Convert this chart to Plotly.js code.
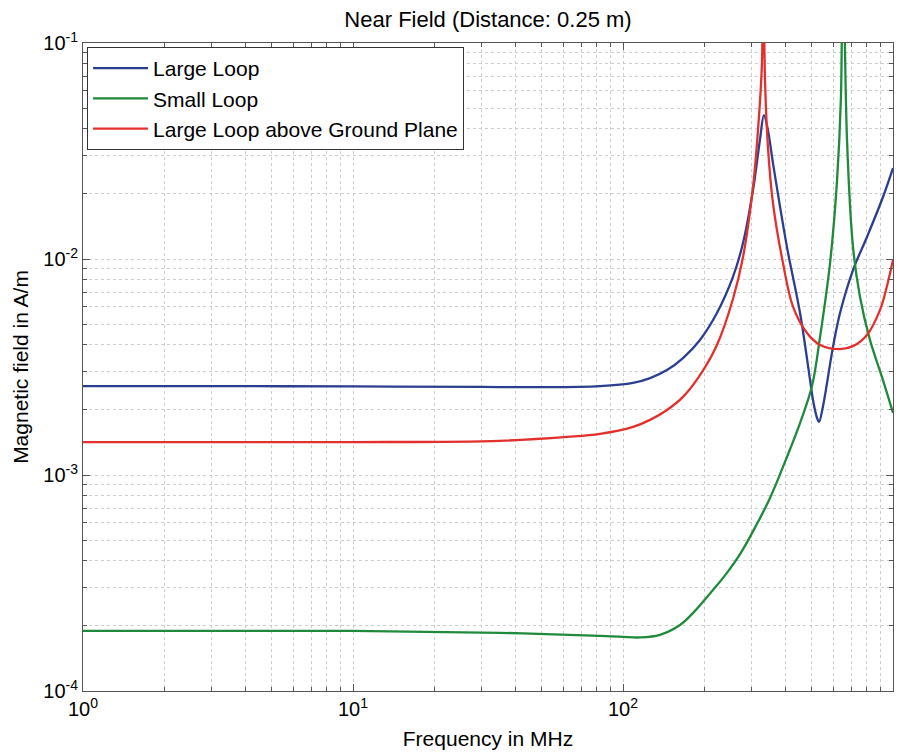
<!DOCTYPE html>
<html>
<head>
<meta charset="utf-8">
<script src="https://cdn.plot.ly/plotly-3.0.1.min.js"></script>
<style>
  html, body { margin: 0; padding: 0; background: #fff; }
  #chart { width: 908px; height: 752px; }
</style>
</head>
<body>
<div id="chart"></div>
<script>
// ---- Data ----
const seriesNames = ["Large Loop", "Small Loop", "Large Loop above Ground Plane"];

const largeLoopFreq = [1, 3, 10, 30, 50, 82.2, 108.9, 126, 145.5, 166.8, 192.8, 222.8, 255.4, 278.3, 303, 321.5, 332.6, 344.2, 359.3, 404.7, 452.6, 493, 505.6, 523, 532, 550, 599.5, 636.5, 711, 801, 918, 1000];
const largeLoopField = [2.58e-3, 2.58e-3, 2.57e-3, 2.56e-3, 2.55e-3, 2.58e-3, 2.67e-3, 2.81e-3, 3.06e-3, 3.48e-3, 4.22e-3, 5.62e-3, 8.26e-3, 0.01186, 0.02084, 0.03556, 0.0464, 0.0395, 0.0278, 0.01138, 5.62e-3, 2.75e-3, 2.22e-3, 1.84e-3, 1.76e-3, 2.07e-3, 3.92e-3, 5.62e-3, 8.89e-3, 0.01265, 0.01937, 0.02636];

const smallLoopFreq = [1, 10, 35, 82, 100, 115.6, 137, 162.6, 184.8, 210.1, 238.7, 271.3, 308.3, 350.4, 398.1, 452.6, 501.2, 536.8, 584.6, 620.6, 641.5, 652, 675.5, 711, 754.8, 821.6, 918, 1000];
const smallLoopField = [1.90e-4, 1.90e-4, 1.86e-4, 1.80e-4, 1.78e-4, 1.77e-4, 1.82e-4, 2.02e-4, 2.35e-4, 2.83e-4, 3.43e-4, 4.30e-4, 5.71e-4, 7.83e-4, 1.151e-3, 1.74e-3, 2.58e-3, 4.36e-3, 9.58e-3, 0.0232, 0.0562, 0.3, 0.0356, 0.01138, 6.67e-3, 4.22e-3, 2.75e-3, 1.94e-3];

const groundLoopFreq = [1, 10, 35, 62.1, 82.2, 108.9, 126, 145.5, 166.8, 192.8, 222.8, 255.4, 278.3, 303, 316.2, 327.1, 330, 335.7, 344.2, 359.3, 391.3, 426.5, 480.3, 536.8, 636.5, 711, 801, 895.5, 950, 1000];
const groundLoopField = [1.42e-3, 1.42e-3, 1.44e-3, 1.50e-3, 1.55e-3, 1.67e-3, 1.80e-3, 2.0e-3, 2.30e-3, 2.90e-3, 4.0e-3, 6.53e-3, 0.01021, 0.0215, 0.0395, 0.0808, 0.3, 0.0674, 0.033, 0.01816, 9.58e-3, 6.0e-3, 4.54e-3, 4.0e-3, 3.83e-3, 3.95e-3, 4.45e-3, 5.81e-3, 7.5e-3, 9.9e-3];

const xTickVals = [1, 10, 100, 1000];
const xTickText = ["10<sup>0</sup>", "10<sup>1</sup>", "10<sup>2</sup>", "10<sup>3</sup>"];
const yTickVals = [1e-4, 1e-3, 1e-2, 1e-1];
const yTickText = ["10<sup>-4</sup>", "10<sup>-3</sup>", "10<sup>-2</sup>", "10<sup>-1</sup>"];

// ---- Styling ----
const colors = ["#2c3e90", "#1f8a3c", "#e3302c"];
const FONT = "Liberation Sans, Arial, Helvetica, sans-serif";
const GRID = "#cdcdcd";

function minorVals(lo, hi) {
  const out = [];
  for (let e = lo; e < hi; e++) {
    for (let m = 2; m <= 9; m++) out.push(m * Math.pow(10, e));
  }
  return out;
}

const lineStyle = (c) => ({ color: c, width: 2.3, shape: "spline", smoothing: 1 });

const traces = [
  { x: largeLoopFreq, y: largeLoopField, name: seriesNames[0], mode: "lines", line: lineStyle(colors[0]) },
  { x: smallLoopFreq, y: smallLoopField, name: seriesNames[1], mode: "lines", line: lineStyle(colors[1]) },
  { x: groundLoopFreq, y: groundLoopField, name: seriesNames[2], mode: "lines", line: lineStyle(colors[2]) }
];

const axisCommon = {
  type: "log",
  tickmode: "array",
  showline: true,
  linecolor: "#555",
  linewidth: 1,
  mirror: "ticks",
  ticks: "inside",
  ticklen: 7,
  tickcolor: "#555",
  showgrid: true,
  gridcolor: GRID,
  griddash: "dot",
  gridwidth: 1,
  zeroline: false,
  tickfont: { family: FONT, size: 20, color: "#000" }
};

const layout = {
  width: 908,
  height: 752,
  margin: { l: 83, r: 15, t: 43, b: 61 },
  paper_bgcolor: "#fff",
  plot_bgcolor: "#fff",
  font: { family: FONT, color: "#000" },
  title: {
    text: "Near Field (Distance: 0.25 m)",
    font: { family: FONT, size: 22, color: "#000" },
    x: 0.5, xref: "paper", xanchor: "center",
    y: 1 - 19 / 752, yref: "container", yanchor: "middle"
  },
  xaxis: Object.assign({}, axisCommon, {
    range: [0, 3],
    tickvals: xTickVals,
    ticktext: xTickText,
    minor: { tickmode: "array", tickvals: minorVals(0, 3), ticks: "inside", ticklen: 4, tickcolor: "#555",
             showgrid: true, gridcolor: GRID, griddash: "dot", gridwidth: 1 },
    title: { text: "Frequency in MHz", font: { family: FONT, size: 21, color: "#000" }, standoff: 12 }
  }),
  yaxis: Object.assign({}, axisCommon, {
    range: [-4, -1],
    tickvals: yTickVals,
    ticktext: yTickText,
    minor: { tickmode: "array", tickvals: minorVals(-4, -1), ticks: "inside", ticklen: 4, tickcolor: "#555",
             showgrid: true, gridcolor: GRID, griddash: "dot", gridwidth: 1 },
    title: { text: "Magnetic field in A/m", font: { family: FONT, size: 21, color: "#000" }, standoff: 8 }
  }),
  showlegend: true,
  legend: {
    x: 0.005, y: 0.994, xanchor: "left", yanchor: "top",
    bgcolor: "#fff",
    bordercolor: "#333",
    borderwidth: 1,
    font: { family: FONT, size: 21, color: "#000" },
    itemwidth: 55,
    tracegroupgap: 0
  }
};

Plotly.newPlot("chart", traces, layout, { staticPlot: true, displayModeBar: false });
</script>
</body>
</html>
